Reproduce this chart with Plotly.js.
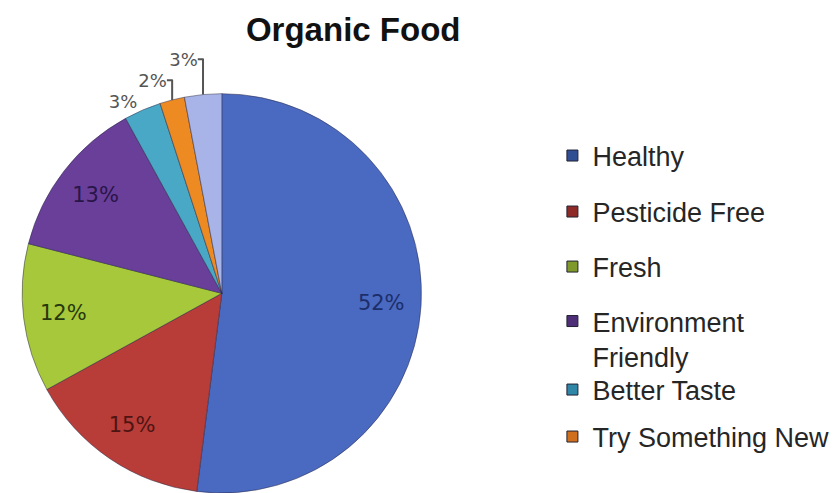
<!DOCTYPE html>
<html>
<head>
<meta charset="utf-8">
<script src="https://cdn.plot.ly/plotly-3.0.1.min.js"></script>
<style>html,body{margin:0;padding:0;background:#fff;}#chart{width:837px;height:493px;}</style>
</head>
<body>
<div id="chart"></div>
<script>
const categories = ["Healthy", "Pesticide Free", "Fresh", "Environment Friendly", "Better Taste", "Try Something New", "Other"];
const values = [52, 15, 12, 13, 3, 2, 3];
const legendLabels = ["Healthy", "Pesticide Free", "Fresh", "Environment<br>Friendly", "Better Taste", "Try Something New"];

const sliceColors = ["#4a69c0", "#b83c38", "#a6c83a", "#693f9a", "#48a8c6", "#ee8a22", "#a8b4e8"];
const legendColors = ["#2f4f92", "#8e2b28", "#7f9a2a", "#4f2e78", "#2f86a6", "#d0701e"];
const textColors = ["#1c2e6a", "#4e1412", "#26380c", "#2a1548", "#555555", "#555555", "#555555"];
const textPositions = ["inside", "inside", "inside", "inside", "outside", "outside", "outside"];

const pieDomain = {x: [0.0, 0.53], y: [0, 0.81]};

const traces = [
  {
    type: "pie",
    labels: categories,
    values: values,
    sort: false,
    direction: "clockwise",
    rotation: 0,
    showlegend: false,
    domain: pieDomain,
    marker: {colors: sliceColors, line: {color: "rgba(40,40,70,0.5)", width: 1}},
    textinfo: "none",
    hoverinfo: "label+percent"
  },
  {
    type: "pie",
    labels: categories,
    values: values,
    sort: false,
    direction: "clockwise",
    rotation: 0,
    hole: 0.6,
    showlegend: false,
    domain: pieDomain,
    marker: {colors: values.map(() => "rgba(0,0,0,0)"), line: {width: 0}},
    texttemplate: "%{percent:.0%}",
    textposition: textPositions,
    insidetextorientation: "horizontal",
    textfont: {family: "DejaVu Sans, Verdana, sans-serif", size: 21, color: textColors},
    outsidetextfont: {family: "DejaVu Sans, Verdana, sans-serif", size: 18, color: "#555555"},
    hoverinfo: "skip"
  }
];

const legendNames = ["legend", "legend2", "legend3", "legend4", "legend5", "legend6"];
legendLabels.forEach((name, i) => {
  traces.push({
    type: "scatter",
    mode: "markers",
    x: [null], y: [null],
    name: name,
    legend: legendNames[i],
    marker: {symbol: "square", size: 11, color: legendColors[i], line: {color: "#223", width: 1}},
    showlegend: true,
    hoverinfo: "skip"
  });
});

const legendFont = {family: "Liberation Sans, Arial, sans-serif", size: 27, color: "#262626"};
const legendX = 0.66;
const legendYs = [0.6836, 0.570, 0.4584, 0.3976, 0.2089, 0.1136];
const legendAnchors = ["middle", "middle", "middle", "top", "middle", "middle"];

const layout = {
  width: 837, height: 493,
  margin: {l: 0, r: 0, t: 0, b: 0},
  paper_bgcolor: "#ffffff",
  plot_bgcolor: "#ffffff",
  title: {
    text: "<b>Organic Food</b>",
    x: 0.422, xanchor: "center",
    y: 0.941, yanchor: "middle",
    font: {family: "Liberation Sans, Arial, sans-serif", size: 33, color: "#111"}
  },
  xaxis: {visible: false, domain: [0.6, 0.61]},
  yaxis: {visible: false, domain: [0.6, 0.61]},
  showlegend: true
};

legendNames.forEach((ln, i) => {
  layout[ln] = {
    x: legendX, xanchor: "left",
    y: legendYs[i], yanchor: legendAnchors[i],
    valign: "top",
    font: legendFont,
    itemwidth: 30,
    bgcolor: "rgba(0,0,0,0)"
  };
});

Plotly.newPlot("chart", traces, layout, {displayModeBar: false, staticPlot: true});
</script>
</body>
</html>
